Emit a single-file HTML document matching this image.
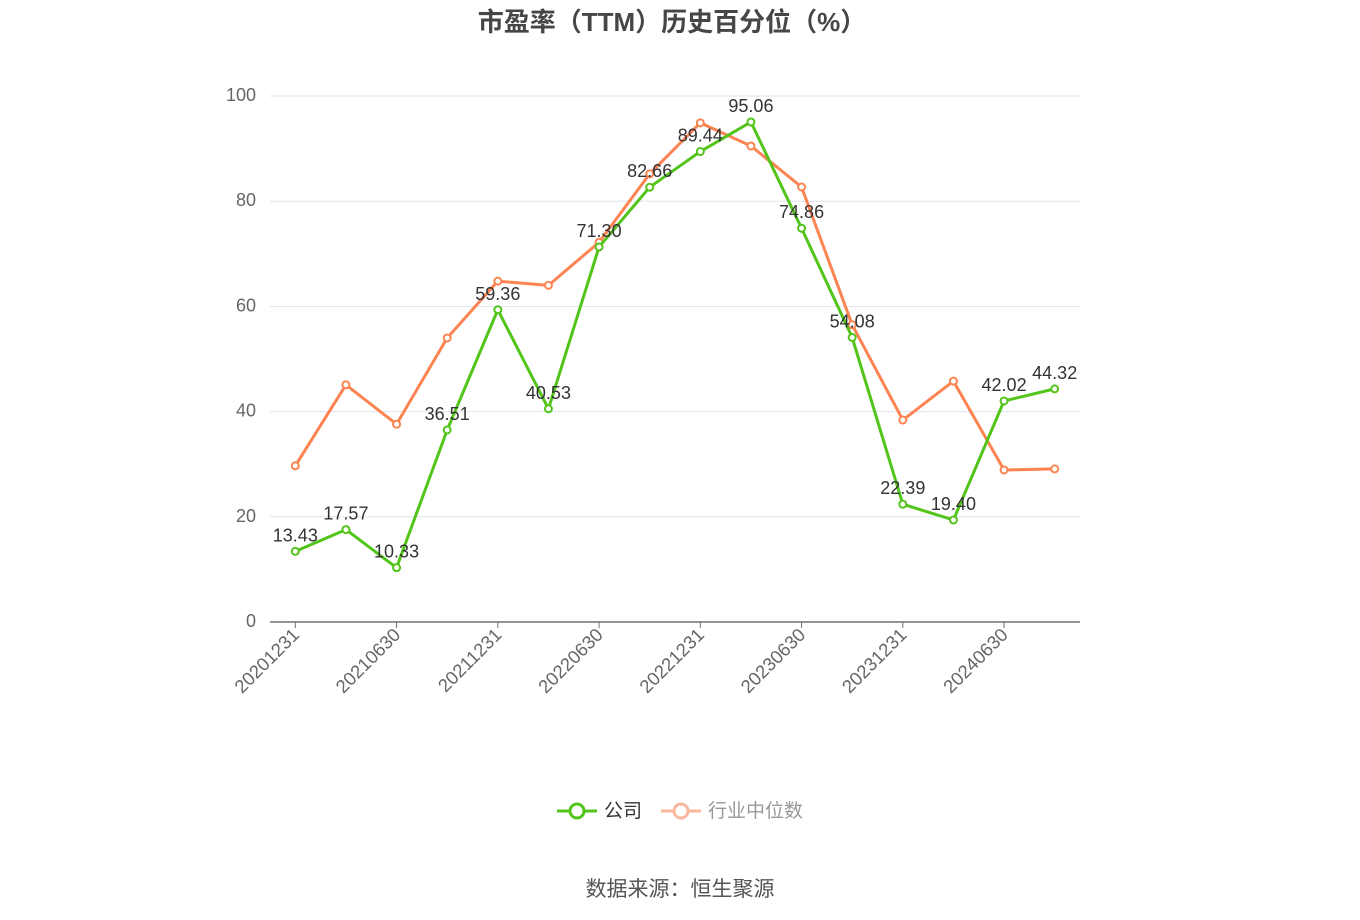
<!DOCTYPE html>
<html><head><meta charset="utf-8"><style>
body{margin:0;background:#fff;font-family:"Liberation Sans","Noto Sans CJK SC",sans-serif;}
</style></head><body>
<svg id="chart" width="1360" height="920" style="display:block;font-family:'Liberation Sans','Noto Sans CJK SC',sans-serif">
<text x="672" y="31" text-anchor="middle" font-size="26" font-weight="bold" fill="#464646">市盈率（TTM）历史百分位（%）</text>
<g id="grid"></g><g id="axes"></g><g id="series"></g>
<g>
<g>
<line x1="557" y1="811" x2="597" y2="811" stroke="#52c41a" stroke-width="3"/>
<circle cx="577" cy="811" r="7" fill="#fff" stroke="#52c41a" stroke-width="3"/>
<text x="604" y="817" font-size="19" fill="#333">公司</text></g>
<g>
<line x1="661" y1="811" x2="701" y2="811" stroke="#fbb79d" stroke-width="3"/>
<circle cx="681" cy="811" r="7" fill="#fff" stroke="#fbb79d" stroke-width="3"/>
<text x="708" y="817" font-size="19" fill="#999">行业中位数</text></g>
</g>
<text x="680" y="896" text-anchor="middle" font-size="21" fill="#555">数据来源：恒生聚源</text>
</svg>
<script>
const categories=["20201231","20210331","20210630","20210930","20211231","20220331","20220630","20220930","20221231","20230331","20230630","20230930","20231231","20240331","20240630","20240930"];
const companyValues=[13.43,17.57,10.33,36.51,59.36,40.53,71.30,82.66,89.44,95.06,74.86,54.08,22.39,19.40,42.02,44.32];
const industryValues=[29.7,45.1,37.6,54.0,64.8,64.0,72.2,85.2,94.9,90.5,82.7,56.5,38.4,45.8,28.9,29.1];
const yTicks=[0,20,40,60,80,100];
const NS="http://www.w3.org/2000/svg";
const L=270,R=1080,T=96,B=622;
const band=(R-L)/categories.length;
const xs=i=>L+band*(i+0.5);
const ys=v=>B-(v/100)*(B-T);
function mk(tag,attrs,parent,txt){const e=document.createElementNS(NS,tag);for(const k in attrs)e.setAttribute(k,attrs[k]);if(txt!==undefined)e.textContent=txt;parent.appendChild(e);return e;}
const grid=document.getElementById('grid'),axes=document.getElementById('axes'),ser=document.getElementById('series');
yTicks.forEach(t=>{
 if(t>0){const g=mk('line',{x1:L,x2:R,y1:ys(t),y2:ys(t),stroke:'#e0e3ee','stroke-width':1},grid);
 
 }
 const lb=mk('text',{x:256,y:ys(t)+5,'text-anchor':'end','font-size':18,fill:'#666'},axes,String(t));
 
 
});
const ax=mk('line',{x1:L,x2:R,y1:B,y2:B,stroke:'#6e7079','stroke-width':1.5},axes);


categories.forEach((c,i)=>{
 if(i%2)return;
 const x=xs(i);
 mk('line',{x1:x,x2:x,y1:B,y2:B+6,stroke:'#6e7079'},axes);
 const t=mk('text',{x:x+5,y:B+14,'text-anchor':'end','font-size':18.5,fill:'#666',transform:`rotate(-45 ${x+5} ${B+14})`},axes,c);
 
 
});
function drawSeries(vals,color,name,labels){
 const p=mk('polyline',{points:vals.map((v,i)=>xs(i)+','+ys(v)).join(' '),fill:'none',stroke:color,'stroke-width':3,'stroke-linejoin':'round'},ser);
 
 
 vals.forEach((v,i)=>{
  const c=mk('circle',{cx:xs(i),cy:ys(v),r:3.5,fill:'#fff',stroke:color,'stroke-width':2},ser);
  
  
  if(labels){const t=mk('text',{x:xs(i),y:ys(v)-10,'text-anchor':'middle','font-size':18,fill:'#333'},ser,v.toFixed(2));
  
  }
 });
}
drawSeries(industryValues,'#fc8452','industry-median',false);
drawSeries(companyValues,'#52c41a','company',true);
</script>
</body></html>
